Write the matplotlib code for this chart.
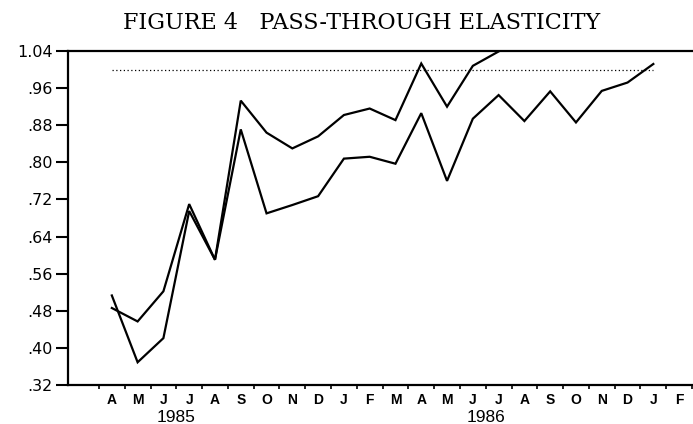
import numpy as np
import matplotlib.pyplot as plt
from matplotlib.ticker import FixedLocator

months = ["A", "M", "J", "J", "A", "S", "O", "N", "D",
          "J", "F", "M", "A", "M", "J", "J", "A", "S", "O", "N", "D",
          "J", "F"]
years = ["1985", "1986"]
year_pos = [2.5, 14.5]

upper = [0.486, 0.457, 0.522, 0.710, 0.590, 0.933, 0.864, 0.830, 0.856,
         0.902, 0.916, 0.891, 1.013, 0.920, 1.008, 1.039]
lower = [0.513, 0.369, 0.421, 0.695, 0.590, 0.871, 0.690, 0.708, 0.727,
         0.808, 0.812, 0.797, 0.906, 0.760, 0.894, 0.945, 0.889, 0.953,
         0.886, 0.954, 0.972, 1.012]
unity = 1.0

yticks = [0.32, 0.40, 0.48, 0.56, 0.64, 0.72, 0.80, 0.88, 0.96, 1.04]
ylabels = [".32", ".40", ".48", ".56", ".64", ".72", ".80", ".88", ".96", "1.04"]

fig = plt.figure(figsize=(6.93, 4.24), dpi=100)
ax = fig.add_axes([68 / 693, 1 - 385 / 424, 624 / 693, 334 / 424])

ax.plot(range(len(upper)), upper, color="black", lw=1.6, solid_joinstyle="miter")
ax.plot(range(len(lower)), lower, color="black", lw=1.6, solid_joinstyle="miter")
ax.hlines(unity, 0, len(lower) - 1, color="black", lw=0.9, linestyles=(0, (1, 2)))

ax.set_xlim(-1.7, 22.5)
ax.set_ylim(0.32, 1.04)

ax.set_yticks(yticks)
ax.set_yticklabels(ylabels, fontsize=11.5, family="DejaVu Sans")
ax.tick_params(axis="y", direction="out", length=9, width=1.5, pad=2)

ax.set_xticks(range(len(months)))
ax.set_xticklabels(months, fontsize=10, fontweight="bold", family="Liberation Sans")
ax.tick_params(axis="x", which="major", length=0, pad=6)
ax.xaxis.set_minor_locator(FixedLocator(np.arange(-0.5, len(months), 1.0)))
ax.tick_params(axis="x", which="minor", direction="out", length=3, width=1.2)

for yr, pos in zip(years, year_pos):
    ax.text(pos, -0.075, yr, transform=ax.get_xaxis_transform(),
            ha="center", va="top", fontsize=12.5, family="Liberation Sans")

for side in ["left", "top", "bottom"]:
    ax.spines[side].set_linewidth(1.6)
ax.spines["right"].set_visible(False)

fig.text(362 / 693, 1 - 23 / 424, "FIGURE 4   PASS-THROUGH ELASTICITY",
         ha="center", va="center", fontsize=16, family="DejaVu Serif")

fig.savefig("out.png", dpi=100)
